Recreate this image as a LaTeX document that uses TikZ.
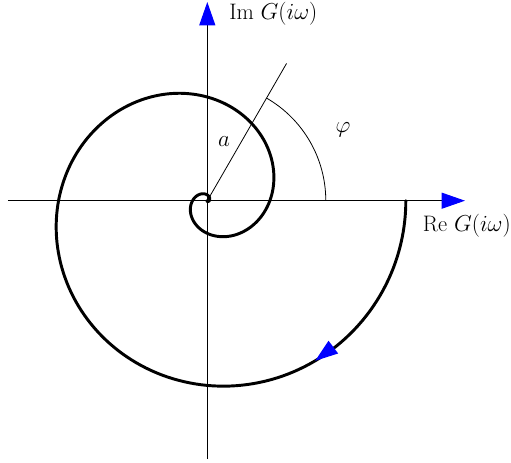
\documentclass[tikz,border=0pt]{standalone}
\usetikzlibrary{arrows.meta}
\begin{document}
\begin{tikzpicture}[x=0.75pt,y=0.75pt,
  axis/.style={line width=0.75pt,-{Triangle[length=17.5pt,width=12pt,color=blue]}},
  spiral/.style={line width=2.2pt,line join=round,line cap=round},
  thinline/.style={line width=0.6pt},
  lbl/.style={font=\fontsize{16.8}{20}\selectfont,inner sep=0pt}]
\useasboundingbox (-207.3,-261.3) rectangle (303.7,200.7);
\coordinate (O) at (0,0);
\coordinate (xs) at (-199.3,0);
\coordinate (xe) at (257.7,0);
\coordinate (ys) at (0,-258.3);
\coordinate (ye) at (0,198.7);
\draw[axis] (xs) -- (xe);
\draw[axis] (ys) -- (ye);
% spiral
\draw[spiral] plot[domain=0:900,samples=500] ({198.5*exp(-(\x/335)^2)*cos(\x)},{-198.5*exp(-(\x/335)^2)*sin(\x)});
\fill (O) circle (1.6);
% arrow on spiral
\coordinate (sa) at ({198.5*exp(-(44/335)^2)*cos(44)},{-198.5*exp(-(44/335)^2)*sin(44)});
\coordinate (sb) at ({198.5*exp(-(56/335)^2)*cos(56)},{-198.5*exp(-(56/335)^2)*sin(56)});
\draw[-{Triangle[length=17pt,width=12pt,color=blue]},line width=0pt,draw opacity=0] (sa) -- (sb);
% radius and angle
\coordinate (R) at (60:158.5);
\draw[thinline] (O) -- (R);
\coordinate (A0) at (118.5,0);
\draw[thinline] (A0) arc[start angle=0,end angle=60,radius=118.5];
\node[lbl] (phi) at (135.7,70.7) {$\varphi$};
\node[lbl] (a) at (16.7,59) {$a$};
\node[lbl,anchor=west] (im) at (21.7,186.7) {Im $G(i\omega)$};
\node[lbl,anchor=west] (re) at (215.4,-25.3) {Re $G(i\omega)$};
\end{tikzpicture}
\end{document}
